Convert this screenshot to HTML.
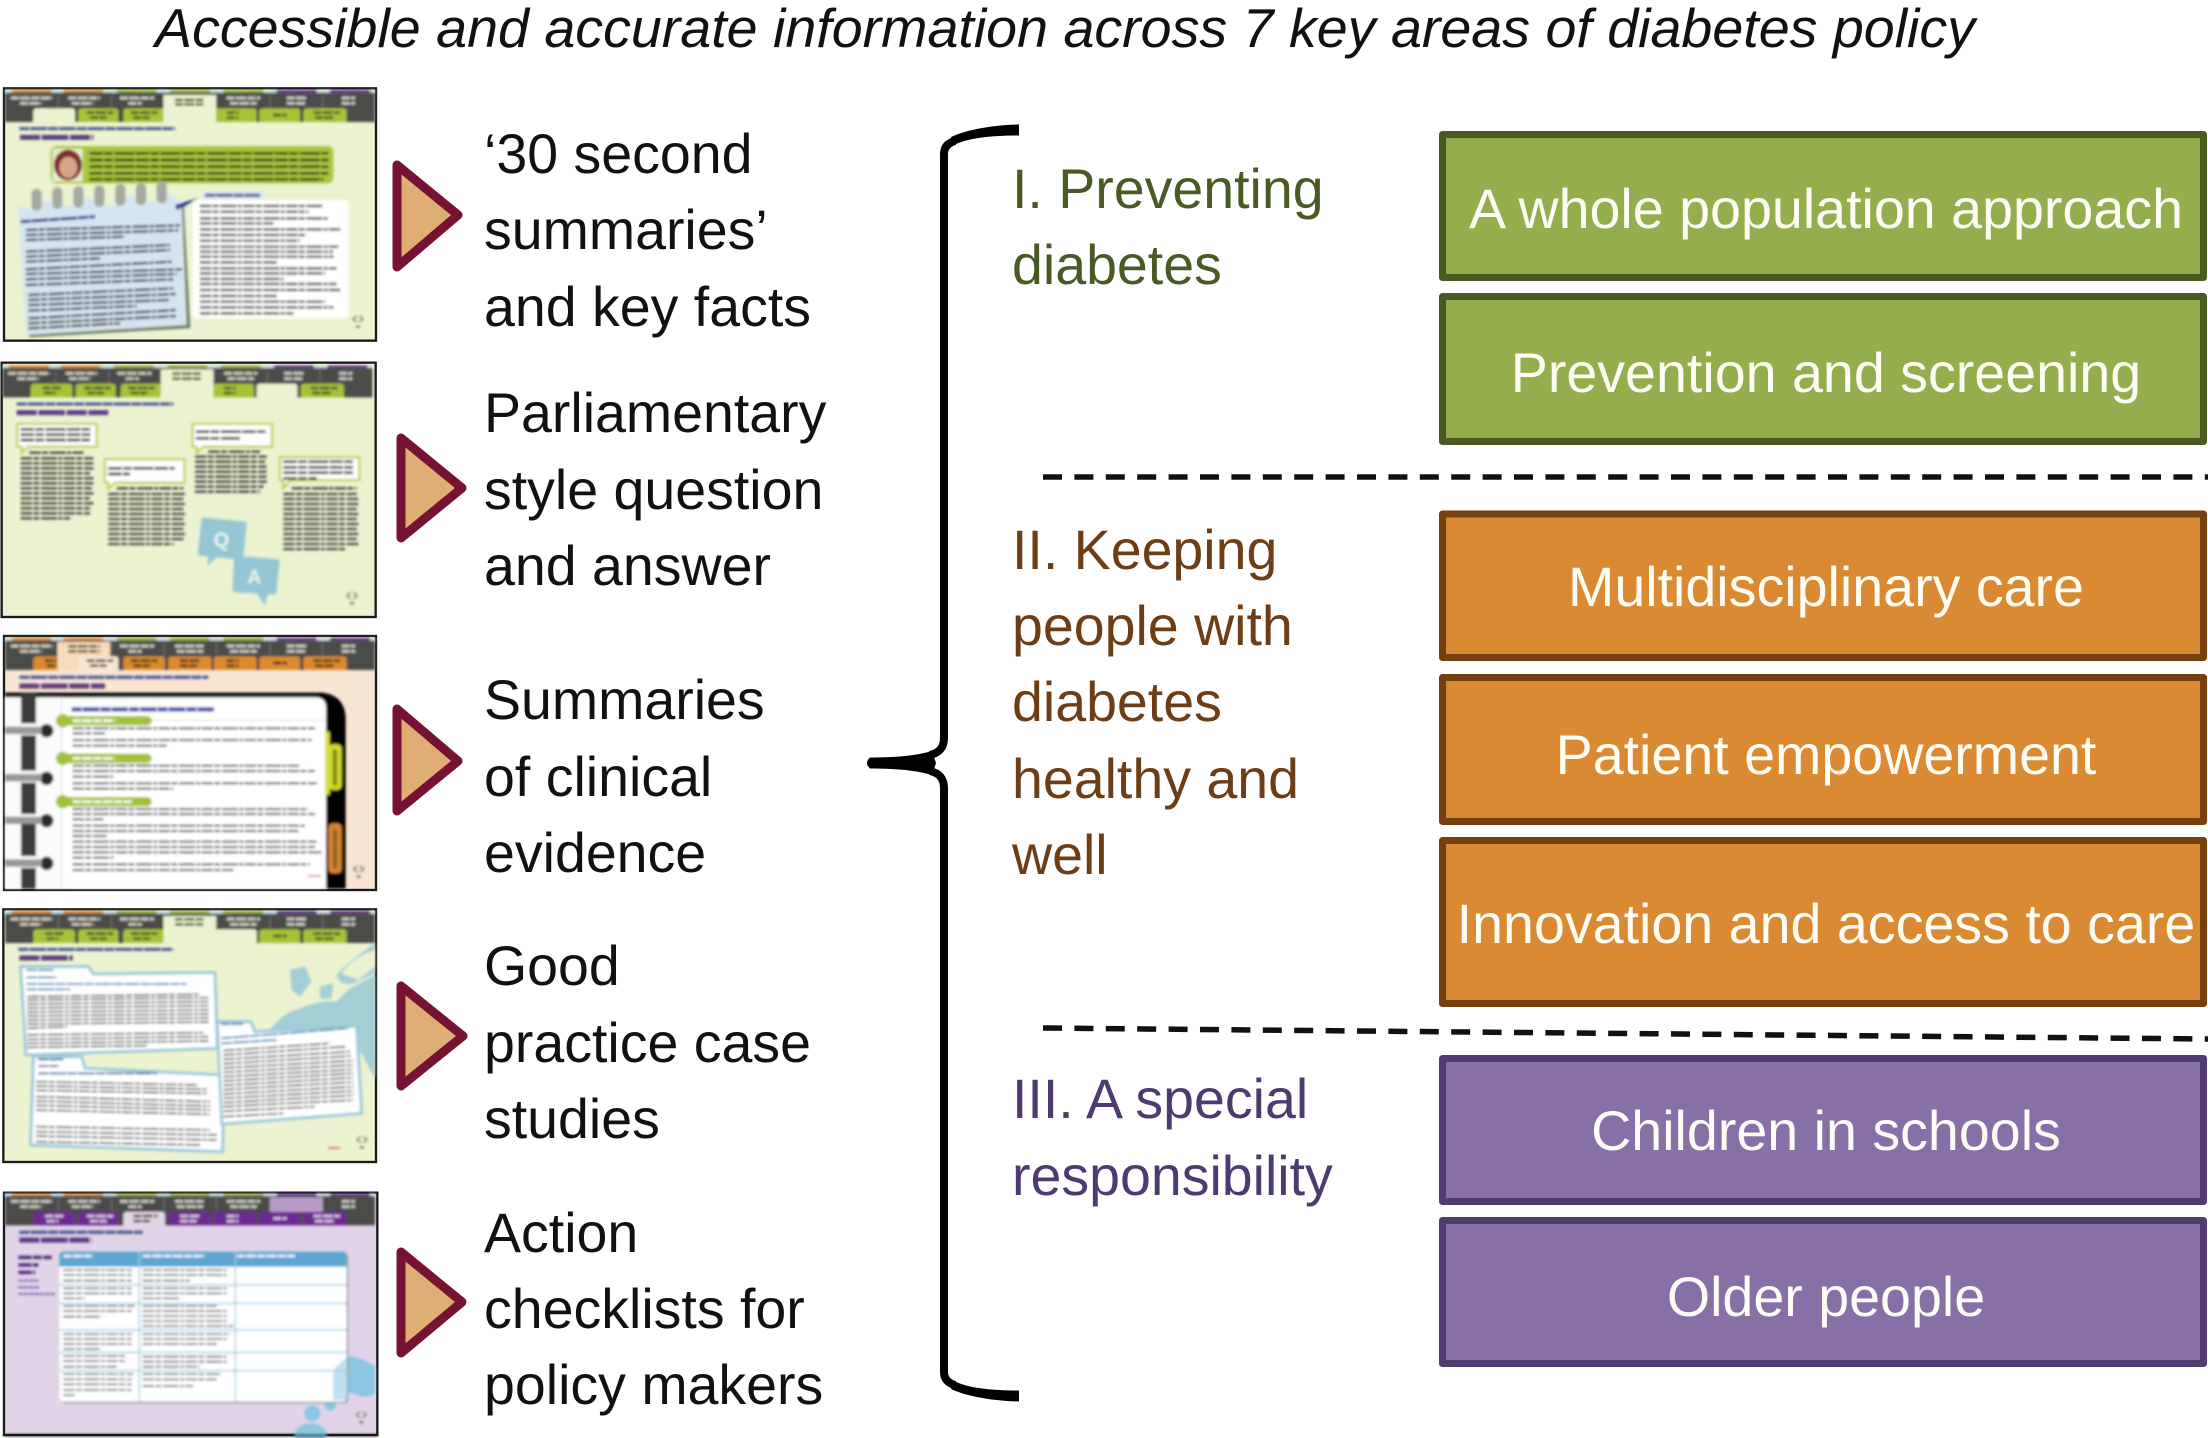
<!DOCTYPE html>
<html><head><meta charset="utf-8"><title>Diabetes policy</title>
<style>
html,body{margin:0;padding:0;background:#fff;width:2208px;height:1438px;overflow:hidden}
svg{display:block}
text{font-family:"Liberation Sans",sans-serif}
.l{font-size:55.5px;fill:#111}
.h{font-size:55.5px}
.b{font-size:55.6px;fill:#fdfdf5;text-anchor:middle}
.t{fill:none;stroke:#444;stroke-width:7;stroke-dasharray:34 4 18 5 48 4 12 4}
.tb{fill:none;stroke:#222;stroke-width:8;stroke-dasharray:40 4 26 5 60 4}
.th{fill:none;stroke:#4a5590;stroke-width:9;stroke-dasharray:30 3 50 3}
.tt{fill:none;stroke:#5b3d80;stroke-width:15;stroke-dasharray:60 5 80 5}
.tw{fill:none;stroke:#cfd0c8;stroke-width:8;stroke-dasharray:24 4 30 4}
.td{fill:none;stroke:#49502c;stroke-width:8;stroke-dasharray:24 4 30 4}
</style></head><body>
<svg width="2208" height="1438" viewBox="0 0 2208 1438" xmlns="http://www.w3.org/2000/svg">
<defs>
<filter id="bl" x="-2%" y="-2%" width="104%" height="104%"><feGaussianBlur stdDeviation="3.6"/></filter>
<g id="hdr">
<rect x="15" y="60" width="1110" height="8" fill="#c7dbe4"/>
<rect x="35" y="60" width="120" height="8" fill="#d2842e"/><rect x="190" y="60" width="120" height="8" fill="#d2842e"/>
<rect x="350" y="60" width="120" height="8" fill="#8cab2e"/><rect x="510" y="60" width="120" height="8" fill="#8cab2e"/><rect x="670" y="60" width="120" height="8" fill="#8cab2e"/>
<rect x="830" y="60" width="120" height="8" fill="#5c2a8a"/><rect x="990" y="60" width="120" height="8" fill="#5c2a8a"/>
<rect x="15" y="68" width="1110" height="88" fill="#4b4b49"/>
<path d="M175 75V112M335 75V112M492 75V112M650 75V112M810 75V112M968 75V112" stroke="#777" stroke-width="3"/>
<path class="tw" d="M32 84H158M205 84H300M360 84H462M525 84H615M680 84H780M860 84H920M1025 84H1065M60 100H125M215 100H280M385 100H425M530 100H610M690 100H770M860 100H915M1025 100H1065"/>
<g fill="var(--t)">
<path d="M100 156V125Q100 115 112 115H215Q225 115 225 125V156Z"/>
<path d="M235 156V125Q235 115 247 115H345Q355 115 355 125V156Z"/>
<path d="M370 156V125Q370 115 382 115H485Q495 115 495 125V156Z"/>
<path d="M505 156V125Q505 115 517 115H625Q635 115 635 125V156Z"/>
<path d="M642 156V125Q642 115 654 115H760Q770 115 770 125V156Z"/>
<path d="M778 156V125Q778 115 790 115H890Q900 115 900 125V156Z"/>
<path d="M910 156V125Q910 115 922 115H1030Q1040 115 1040 125V156Z"/>
</g>
<path class="td" d="M135 128H190M260 128H340M393 128H472M540 128H598M680 128H715M940 128H1020M140 143H175M270 143H320M400 143H450M540 143H590M680 143H715M820 135H860M945 143H1000" style="stroke:var(--x)"/>
</g>
<g id="nav" fill="none" stroke="#8a8f80" stroke-width="5"><path d="M1070 738L1059 747L1070 756M1078 738L1089 747L1078 756"/><path d="M1068 770H1080" stroke="#555"/></g>
</defs>
<rect width="2208" height="1438" fill="#fff"/>

<!-- title -->
<text x="155" y="47" font-size="54.5" font-style="italic" fill="#111" textLength="1820" lengthAdjust="spacingAndGlyphs">Accessible and accurate information across 7 key areas of diabetes policy</text>

<!-- Thumb 1 -->
<g transform="translate(0,70) scale(.33333)">
<rect x="12" y="55" width="1116" height="757" fill="#ecf3d0" stroke="#1a1a1a" stroke-width="7"/>
<g filter="url(#bl)">
<use href="#hdr" style="--t:#a6c337;--x:#48552a"/>
<rect x="490" y="75" width="158" height="82" fill="#ecf3d0"/>
<path d="M100 156V125Q100 115 112 115H215Q225 115 225 125V156Z" fill="#ecf3d0"/>
<path class="td" d="M525 90H610M525 103H610"/>
<path class="th" d="M58 176H525"/><path class="tt" d="M60 202H280"/>
<rect x="152" y="228" width="848" height="112" rx="18" fill="#a9c53c"/>
<rect x="158" y="236" width="90" height="98" fill="#e4eed2"/>
<ellipse cx="204" cy="285" rx="42" ry="46" fill="#7a2e2e"/><ellipse cx="205" cy="292" rx="27" ry="32" fill="#d8a488"/>
<path class="tb" d="M268 250H985M268 270H985M268 290H985M268 310H985M268 328H970" style="stroke:#30391a"/>
<path d="M55 405Q80 430 115 405T180 400T245 395T305 395T368 390T430 385T500 370L545 395L565 768L82 796Z" fill="#6d7a5e" transform="translate(6,6)"/>
<path d="M55 405Q80 430 115 405T180 400T245 395T305 395T368 390T430 385T500 370L545 395L560 765L78 795Z" fill="#d4e5f1"/>
<g fill="#a6a9a0"><rect x="95" y="357" width="30" height="65" rx="14"/><rect x="157" y="352" width="30" height="65" rx="14"/><rect x="220" y="348" width="30" height="65" rx="14"/><rect x="283" y="346" width="30" height="65" rx="14"/><rect x="346" y="342" width="30" height="65" rx="14"/><rect x="408" y="340" width="30" height="65" rx="14"/><rect x="470" y="335" width="30" height="65" rx="14"/></g>
<path d="M525 405L597 383L548 412L530 420Z" fill="#2b3f8c"/>
<path class="th" d="M62 455L285 440" style="stroke:#34408c"/>
<path class="t" d="M78 480L540 466M78 495L535 481M78 510L370 500M78 545L510 525M78 560L510 540M78 575L300 565M78 598L515 575M78 612L545 598M78 628L530 612M78 645L520 628M85 675L520 655M85 690L530 672M85 705L510 690M85 722L410 708M85 745L530 720M85 760L530 738M85 775L360 760"/>
<rect x="578" y="390" width="468" height="355" rx="14" fill="#fff"/>
<rect x="608" y="363" width="182" height="24" fill="#dce8f5"/><path class="th" d="M615 376H780"/>
<path class="t" d="M600 408H970M600 425H925M600 445H985M600 460H820M600 478H1025M600 495H920M600 512H900M600 530H1015M600 545H1000M600 560H1000M600 577H830M600 595H1010M600 610H975M600 627H850M600 642H1010M600 660H1025M600 678H830M600 695H975M600 712H1000M600 730H880"/>
<use href="#nav"/>
</g></g>

<!-- Thumb 2 -->
<g transform="translate(0,350) scale(.33333)">
<rect x="5" y="38" width="1122" height="763" fill="#ecf3d0" stroke="#1a1a1a" stroke-width="7"/>
<g filter="url(#bl)">
<g transform="translate(-8,-14)"><use href="#hdr" style="--t:#a6c337;--x:#48552a"/>
<rect x="490" y="72" width="158" height="84" fill="#ecf3d0"/>
<path d="M778 156V125Q778 115 790 115H890Q900 115 900 125V156Z" fill="#ecf3d0"/>
<path class="td" d="M525 85H610M525 100H610"/></g>
<path class="th" d="M50 162H520"/><path class="tt" d="M50 188H325"/>
<g fill="#fff" stroke="#bcd162" stroke-width="7">
<path d="M52 222H290V290H85L65 308L65 290H52Z"/>
<path d="M315 328H553V398H345L325 416V398H315Z"/>
<path d="M578 222H816V290H610L590 308V290H578Z"/>
<path d="M840 322H1078V390H870L850 415V390H840Z"/>
</g>
<path class="tb" d="M62 238H275M62 254H275M62 270H270M325 355H525M325 372H390M588 245H800M588 265H720M850 335H1060M850 352H1060M850 368H1060M850 385H950"/>
<path class="t" d="M88 308H250M62 325H280M62 340H280M62 355H280M62 370H270M62 385H280M62 400H280M62 415H275M62 430H280M62 445H270M62 460H280M62 475H270M62 490H270M62 505H210M350 415H550M325 432H555M325 447H550M325 462H555M325 477H550M325 492H555M325 507H550M325 522H555M325 537H550M325 552H555M325 567H550M325 582H520M625 305H780M585 320H800M585 335H795M585 350H800M585 365H800M585 380H800M585 395H800M585 410H790M585 425H780M875 415H1070M850 432H1070M850 447H1075M850 462H1075M850 477H1070M850 492H1075M850 507H1070M850 522H1075M850 537H1070M850 552H1075M850 567H1070M850 582H1075M850 597H1040"/>
<path d="M612 503L735 515Q742 516 740 525L730 620Q729 630 720 629L650 622L622 648L625 620L600 617Q592 616 594 607L604 511Q605 502 612 503Z" fill="#95c6d4"/>
<path d="M712 618L830 627Q840 628 838 638L830 725Q829 735 820 734L803 733L795 767L770 731L707 727Q697 726 698 716L702 626Q703 617 712 618Z" fill="#95c6d4"/>
<text x="640" y="590" font-size="62" font-weight="700" fill="#e6f2ea">Q</text><text x="742" y="700" font-size="58" font-weight="700" fill="#e6f2ea">A</text>
<use href="#nav" transform="translate(-18,-10)"/>
</g></g>

<!-- Thumb 3 -->
<g transform="translate(0,620) scale(.33333)">
<rect x="12" y="48" width="1116" height="762" fill="#f8e6d2" stroke="#1a1a1a" stroke-width="7"/>
<g filter="url(#bl)">
<g transform="translate(0,-6)"><use href="#hdr" style="--t:#dc8a2d;--x:#4c3114"/>
<rect x="172" y="72" width="158" height="84" fill="#f8dcba"/>
<path d="M235 156V125Q235 115 247 115H345Q355 115 355 125V156Z" fill="#f8e6d2"/>
<path class="td" d="M205 85H300M205 100H300M260 128H340M270 143H320"/></g>
<path class="th" d="M58 172H625"/><path class="tt" d="M58 198H315"/>
<path d="M15 218H965Q1037 225 1037 300V806H15Z" fill="#000"/>
<path d="M15 232H950Q978 235 978 262V806H15Z" fill="#fff"/>
<rect x="15" y="232" width="170" height="574" fill="#fbfbfb"/>
<path d="M186 232V806" stroke="#cfe1ee" stroke-width="3"/>
<rect x="63" y="222" width="45" height="584" fill="#3a3a3a"/>
<g fill="#fff"><rect x="60" y="310" width="50" height="36"/><rect x="60" y="452" width="50" height="36"/><rect x="60" y="582" width="50" height="26"/><rect x="60" y="708" width="50" height="36"/></g>
<g fill="#2a2a2a"><ellipse cx="140" cy="332" rx="20" ry="20"/><ellipse cx="140" cy="475" rx="20" ry="20"/><ellipse cx="140" cy="602" rx="20" ry="20"/><ellipse cx="140" cy="730" rx="20" ry="20"/></g>
<g fill="#999"><rect x="15" y="320" width="110" height="22"/><rect x="15" y="462" width="110" height="22"/><rect x="15" y="590" width="110" height="22"/><rect x="15" y="718" width="110" height="22"/></g>
<path class="th" d="M215 268H645" style="stroke:#3f55a6;stroke-width:13"/>
<path d="M186 302H978" stroke="#d3e3ef" stroke-width="3"/>
<g fill="#a3c13a"><rect x="172" y="288" width="283" height="28" rx="14"/><rect x="172" y="401" width="283" height="28" rx="14"/><rect x="172" y="531" width="283" height="28" rx="14"/><circle cx="188" cy="302" r="20"/><circle cx="188" cy="415" r="20"/><circle cx="188" cy="545" r="20"/></g>
<path class="tw" d="M218 302H345M218 415H345M218 545H395" style="stroke:#fff"/>
<path class="t" d="M218 325H945M218 340H315M218 360H935M218 377H500M218 437H900M218 453H945M218 470H340M218 490H950M218 506H520M218 567H925M218 582H945M218 598H310M218 617H915M218 633H895M218 648H320M218 665H950M218 681H945M218 697H965M218 713H340M218 733H930M218 750H700" style="stroke-width:6;stroke:#555"/>
<path d="M922 768H962" stroke="#c04040" stroke-width="3"/>
<rect x="985" y="372" width="40" height="138" rx="14" fill="#cfd82c"/><rect x="975" y="335" width="14" height="190" fill="#d8e040"/>
<rect x="985" y="610" width="40" height="150" rx="14" fill="#d88336"/>
<path d="M1005 390V495M1005 630V745" stroke="#5a5a1a" stroke-width="12" stroke-dasharray="8 3"/>
<use href="#nav" transform="translate(2,0)"/>
</g></g>

<!-- Thumb 4 -->
<g transform="translate(0,900) scale(.33333)">
<rect x="10" y="28" width="1118" height="758" fill="#ecf3d0" stroke="#1a1a1a" stroke-width="7"/>
<g filter="url(#bl)">
<g transform="translate(0,-27)"><use href="#hdr" style="--t:#a6c337;--x:#48552a"/>
<rect x="490" y="75" width="158" height="82" fill="#ecf3d0"/>
<path d="M642 156V125Q642 115 654 115H760Q770 115 770 125V156Z" fill="#ecf3d0"/>
<path class="td" d="M525 85H610M525 100H610"/></g>
<path d="M800 405Q840 340 900 325Q960 300 1010 305Q1040 270 1060 260L1125 225V535L1085 460L1010 400L860 395Z" fill="#a4ced6"/>
<path d="M1010 225Q1050 180 1125 130V220L1060 250Q1020 260 1010 225Z" fill="#a4ced6"/>
<path d="M870 210L915 200L935 245L900 290L875 270Z M960 260L1000 250L995 295L960 295Z" fill="#a4ced6"/>
<path d="M1025 220Q1060 170 1125 150V200L1075 240Z" fill="#ecf3d0"/>
<path class="th" d="M55 148H520"/><path class="tt" d="M58 174H218"/>
<g fill="#fff" stroke="#9cc9da" stroke-width="9">
<path d="M62 200H265L280 222L645 218L652 445L78 465Z"/>
<path d="M100 470H245L255 505L672 525L668 755L92 735Z"/>
<path d="M652 365H752L765 395L1070 378L1085 640L665 672Z"/>
</g>
<path class="th" d="M80 210H160M80 232H170M80 252H560M80 268H210" style="stroke:#4d8fc0;stroke-width:6"/>
<path class="t" d="M82 290L600 283M82 300L625 293M82 312L625 305M82 324L625 317M82 336L625 330M82 348L625 342M82 360L625 354M82 372L625 366M82 385L200 380M82 405L610 398M82 418L625 410M82 430L625 423M82 442L440 437" style="stroke-width:5"/>
<path class="th" d="M115 478H190M115 498H175M115 520H470" style="stroke:#3c6ea8;stroke-width:6"/>
<path class="t" d="M108 545L590 555M108 558L620 568M108 571L620 580M108 590L630 605M108 603L630 618M108 616L630 630M108 630L630 643M108 680L630 690M108 695L650 705M108 708L650 720M108 725L600 735" style="stroke-width:5"/>
<path class="th" d="M662 372H730M665 415L1045 385M665 430L830 420" style="stroke:#4d8fc0;stroke-width:6"/>
<path class="t" d="M670 452L990 430M670 465L1040 440M670 478L1050 455M670 491L1055 468M670 504L1060 482M670 517L1060 495M670 530L1060 508M670 543L1060 520M670 556L1060 533M670 569L1060 546M670 582L1060 560M670 595L1060 573M670 608L1060 586M670 620L1060 600M670 634L945 620M670 650L850 640" style="stroke-width:5"/>
<path d="M985 744H1020" stroke="#c95a30" stroke-width="4"/>
<use href="#nav" transform="translate(12,-28)"/>
</g></g>

<!-- Thumb 5 -->
<g transform="translate(0,1170) scale(.33333)">
<rect x="12" y="68" width="1120" height="727" fill="#e2d4e8" stroke="#1a1a1a" stroke-width="7"/>
<g filter="url(#bl)">
<g transform="translate(0,10)"><use href="#hdr" style="--t:#6c2a92;--x:#d8c8e0"/>
<rect x="810" y="72" width="158" height="44" fill="#b89cc6"/>
<path d="M370 156V125Q370 115 382 115H485Q495 115 495 125V156Z" fill="#e2d4e8"/>
<path class="td" d="M400 128H472M400 143H450" /></g>
<path d="M945 605Q950 575 1000 570Q1020 550 1060 560Q1100 570 1125 590V670Q1100 690 1060 670Q1020 670 990 650Q945 640 945 605Z" fill="#8bc6e2"/>
<circle cx="937" cy="730" r="24" fill="#8bc6e2"/><circle cx="990" cy="705" r="17" fill="#8bc6e2"/>
<ellipse cx="932" cy="795" rx="48" ry="35" fill="#8bc6e2"/>
<rect x="12" y="793" width="1120" height="6" fill="#1a1a1a"/>
<rect x="183" y="250" width="862" height="450" rx="12" fill="#9aa0a8"/>
<rect x="178" y="245" width="862" height="450" rx="12" fill="#fff"/>
<path d="M178 290V257Q178 245 190 245H1028Q1040 245 1040 257V290Z" fill="#5ba6d0"/>
<path d="M1040 560V690H1000V600Z" fill="#8bc6e2" opacity=".55"/>
<path d="M418 245V695M706 245V695M178 345H1040M178 400H1040M178 480H1040M178 547H1040M178 602H1040" stroke="#9ccbe2" stroke-width="4" fill="none"/>
<path class="tw" d="M190 258H278M428 258H615M710 258H885" style="stroke:#eef5fa"/>
<path class="t" d="M190 300H395M190 315H395M190 332H395M190 355H395M190 370H395M190 385H255M190 408H405M190 423H395M190 440H305M190 492H395M190 507H395M190 522H395M190 537H300M190 558H380M190 573H380M190 590H350M190 612H400M190 628H395M190 643H395M190 660H395M190 675H225M428 300H680M428 315H680M428 332H570M428 355H680M428 370H680M428 385H540M428 408H650M428 423H680M428 438H680M428 453H680M428 468H700M428 492H690M428 507H680M428 522H650M428 560H680M428 575H680M428 590H600M428 612H660M428 628H650M428 648H580" style="stroke-width:5;stroke:#666"/>
<path class="tb" d="M55 262H155M55 285H115M55 307H105" style="stroke:#4b2a7a;stroke-width:10"/>
<path class="th" d="M58 187H428"/><path class="tt" d="M58 210H275"/>
<path d="M55 332H115M55 352H118M55 372H165" stroke="#5b3a9c" stroke-width="4" fill="none" stroke-dasharray="14 2"/>
<use href="#nav" transform="translate(10,-13)"/>
</g></g>

<!-- triangles -->
<g fill="#dfae74" stroke="#761332" stroke-width="9" stroke-linejoin="round">
<path d="M397 165V267L458 215Z"/>
<path d="M401 438V538L462 488Z"/>
<path d="M397 709V811L458 761Z"/>
<path d="M401 986V1086L463 1036Z"/>
<path d="M401 1252V1353L462 1302Z"/>
</g>

<!-- left labels -->
<text class="l" x="484" y="173">‘30 second</text>
<text class="l" x="484" y="249">summaries’</text>
<text class="l" x="484" y="326">and key facts</text>
<text class="l" x="484" y="432">Parliamentary</text>
<text class="l" x="484" y="509">style question</text>
<text class="l" x="484" y="585">and answer</text>
<text class="l" x="484" y="719">Summaries</text>
<text class="l" x="484" y="796">of clinical</text>
<text class="l" x="484" y="872">evidence</text>
<text class="l" x="484" y="985">Good</text>
<text class="l" x="484" y="1062">practice case</text>
<text class="l" x="484" y="1138">studies</text>
<text class="l" x="484" y="1252">Action</text>
<text class="l" x="484" y="1328">checklists for</text>
<text class="l" x="484" y="1404">policy makers</text>

<!-- brace -->
<path d="M955 141Q944 144 944 154V738Q944 752 930 755M930 771Q944 774 944 788V1372Q944 1382 955 1385" fill="none" stroke="#000" stroke-width="8"/>
<path d="M1019 124.500V135.500C990 135.500 968 138 954 145L951 137C968 129 995 125 1019 124.500Z" fill="#000"/>
<path d="M1019 1401.500V1390.500C990 1390.500 968 1388 954 1381L951 1389C968 1397 995 1401 1019 1401.500Z" fill="#000"/>
<path d="M870 757.500C895 757.500 915 756 932 751L936 763L932 775C915 770 895 768.500 870 768.500Q864 763 870 757.500Z" fill="#000"/>

<!-- dashes -->
<path d="M1043 477H2208" stroke="#111" stroke-width="5.500" stroke-dasharray="19 12.400"/>
<path d="M1043 1028L2208 1039" stroke="#111" stroke-width="5.500" stroke-dasharray="19 12.400"/>

<!-- headings -->
<g fill="#4a5a24">
<text class="h" x="1012" y="208">I. Preventing</text>
<text class="h" x="1012" y="284">diabetes</text>
</g>
<g fill="#6d3e16">
<text class="h" x="1012" y="569">II. Keeping</text>
<text class="h" x="1012" y="645">people with</text>
<text class="h" x="1012" y="721">diabetes</text>
<text class="h" x="1012" y="798">healthy and</text>
<text class="h" x="1012" y="874">well</text>
</g>
<g fill="#4d3b70">
<text class="h" x="1012" y="1118">III. A special</text>
<text class="h" x="1012" y="1195">responsibility</text>
</g>

<!-- boxes -->
<g fill="#94ae4d" stroke="#4b5a22" stroke-width="7" stroke-linejoin="round">
<rect x="1442.500" y="134.500" width="761" height="143"/>
<rect x="1442.500" y="296.500" width="761" height="145"/>
</g>
<g fill="#d98a33" stroke="#763f10" stroke-width="7" stroke-linejoin="round">
<rect x="1442.500" y="514" width="761" height="143.500"/>
<rect x="1442.500" y="677.500" width="761" height="144"/>
<rect x="1442.500" y="840.500" width="761" height="163"/>
</g>
<g fill="#8670a6" stroke="#503c70" stroke-width="7" stroke-linejoin="round">
<rect x="1442.500" y="1058.500" width="761" height="143"/>
<rect x="1442.500" y="1220.500" width="761" height="143"/>
</g>
<text class="b" x="1826" y="228">A whole population approach</text>
<text class="b" x="1826" y="392">Prevention and screening</text>
<text class="b" x="1826" y="606">Multidisciplinary care</text>
<text class="b" x="1826" y="774">Patient empowerment</text>
<text class="b" x="1826" y="943">Innovation and access to care</text>
<text class="b" x="1826" y="1150">Children in schools</text>
<text class="b" x="1826" y="1316">Older people</text>
</svg>
</body></html>
